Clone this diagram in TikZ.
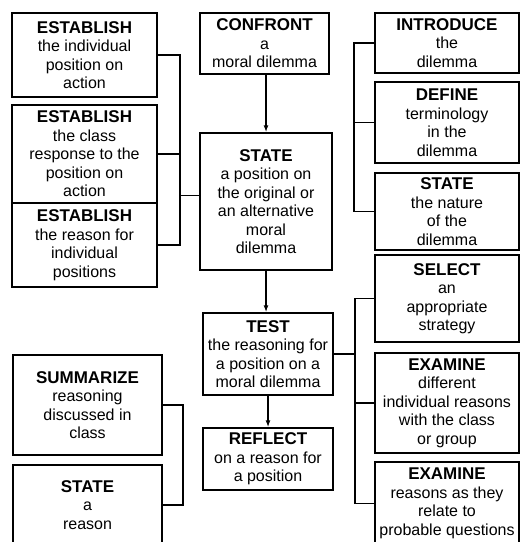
\documentclass[tikz,border=0pt]{standalone}
\usepackage{fontspec}
\setmainfont{Liberation Sans}
\usetikzlibrary{arrows.meta,calc}
\newcommand{\hd}[1]{{\fontsize{17}{18}\selectfont\bfseries #1}}
\tikzset{
  box/.style={draw=black, line width=1.4pt, align=center, inner sep=0pt, font=\fontsize{16}{18.5}\selectfont},
  link/.style={line width=1.4pt, draw=black},
  arrow/.style={link, -{Latex[length=7pt,width=5pt]}}
}
\begin{document}
\begin{tikzpicture}[x=1pt, y=-1pt]
  \path[use as bounding box, fill=white] (0,0) rectangle (521,542);
  \clip (0,0) rectangle (521,542);

  % left column
  \node[box, minimum width=145, minimum height=84] (est1) at (84.5,55) {\hd{ESTABLISH}\\the individual\\position on\\action};
  \node[box, minimum width=145, minimum height=98] (est2) at (84.5,154) {\hd{ESTABLISH}\\the class\\response to the\\position on\\action};
  \node[box, minimum width=145, minimum height=84] (est3) at (84.5,245) {\hd{ESTABLISH}\\the reason for\\individual\\positions};
  \node[box, minimum width=149, minimum height=100] (summ) at (87.5,405) {\hd{SUMMARIZE}\\reasoning\\discussed in\\class};
  \node[box, minimum width=149, minimum height=80] (sreason) at (87.5,505) {\hd{STATE}\\a\\reason};

  % middle column
  \node[box, minimum width=129, minimum height=61] (confront) at (264.5,43.5) {\hd{CONFRONT}\\a\\moral dilemma};
  \node[box, minimum width=132, minimum height=137] (spos) at (266,201.5) {\hd{STATE}\\a position on\\the original or\\an alternative\\moral\\dilemma};
  \node[box, minimum width=130, minimum height=82] (test) at (268,354) {\hd{TEST}\\the reasoning for\\a position on a\\moral dilemma};
  \node[box, minimum width=130, minimum height=62] (reflect) at (268,459) {\hd{REFLECT}\\on a reason for\\a position};

  % right column
  \node[box, minimum width=144, minimum height=60] (intro) at (447,43) {\hd{INTRODUCE}\\the\\dilemma};
  \node[box, minimum width=144, minimum height=81] (define) at (447,122.5) {\hd{DEFINE}\\terminology\\in the\\dilemma};
  \node[box, minimum width=144, minimum height=77] (snature) at (447,211.5) {\hd{STATE}\\the nature\\of the\\dilemma};
  \node[box, minimum width=144, minimum height=87] (select) at (447,298.5) {\hd{SELECT}\\an\\appropriate\\strategy};
  \node[box, minimum width=144, minimum height=100] (exam1) at (447,403) {\hd{EXAMINE}\\different\\individual reasons\\with the class\\or group};
  \node[box, minimum width=144, minimum height=83] (exam2) at (447,503.5) {\hd{EXAMINE}\\reasons as they\\relate to\\probable questions};

  % main flow
  \draw[arrow] (spos.north |- confront.south) -- (spos.north);
  \draw[arrow] (spos.south) -- (spos.south |- test.north);
  \draw[arrow] (test.south) -- (test.south |- reflect.north);

  % brackets
  \coordinate (lspine) at (180,0);
  \coordinate (bspine) at (183,0);
  \coordinate (tspine) at (354,0);
  \coordinate (rspine) at (355,0);
  \draw[link] (est1.east) -- (est1.east -| lspine) |- (est3.east);
  \draw[link] (est2.east) -- (est2.east -| lspine);
  \draw[link] ([yshift=6]spos.west) -- ([yshift=6]spos.west -| lspine);
  \draw[link] (summ.east) -- (summ.east -| bspine) |- (sreason.east);
  \draw[link] (intro.west) -- (intro.west -| tspine) |- (snature.west);
  \draw[link] (define.west) -- (define.west -| tspine);
  \draw[link] (select.west) -- (select.west -| rspine) |- (exam2.west);
  \draw[link] (exam1.west) -- (exam1.west -| rspine);
  \draw[link] (test.east) -- (test.east -| rspine);
\end{tikzpicture}
\end{document}
